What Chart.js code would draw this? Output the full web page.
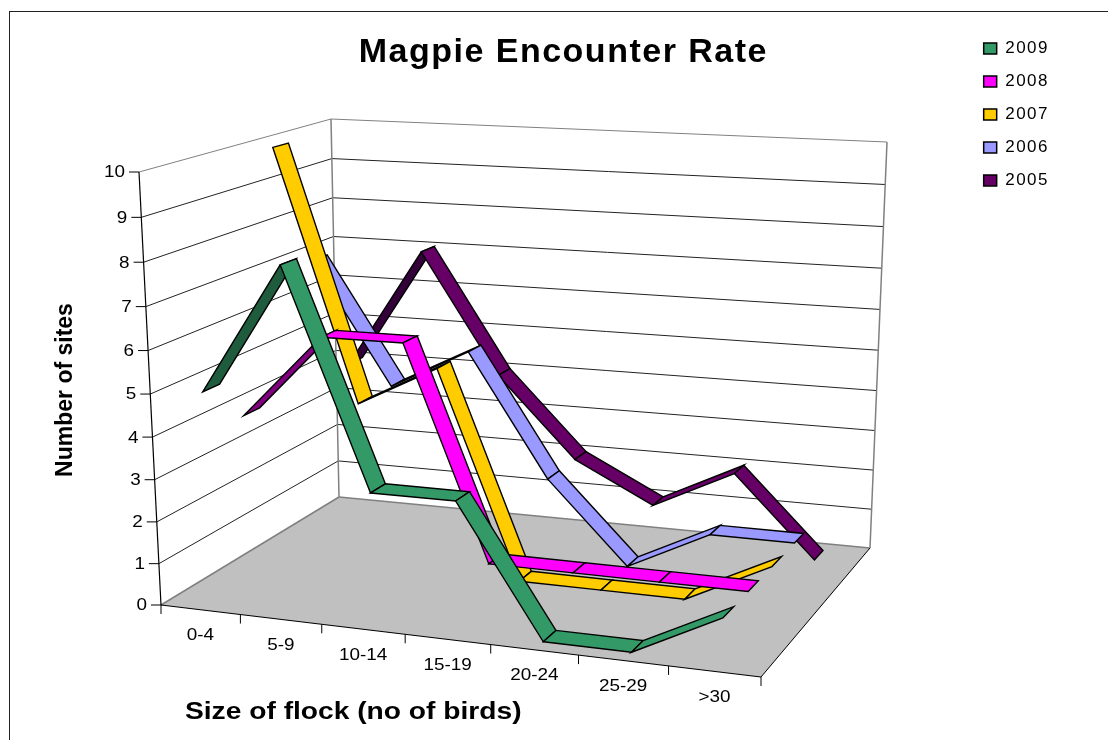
<!DOCTYPE html>
<html>
<head>
<meta charset="utf-8">
<title>Magpie Encounter Rate</title>
<script src="https://cdn.jsdelivr.net/npm/chart.js@4"></script>
<style>
  body { margin: 0; background: #fff; }
  canvas { display: block; }
</style>
</head>
<body>
<canvas id="chart" width="1108" height="740"></canvas>
<script>
// values
const flockSizes = ["0-4", "5-9", "10-14", "15-19", "20-24", "25-29", ">30"];
const years = ["2009", "2008", "2007", "2006", "2005"];
const values2009 = [5, 8, 3, 3, 0, 0, 1];
const values2008 = [4, 6, 6, 1, 1, 1, 1];
const values2007 = [10, 4, 5, 0, 0, 0, 1];
const values2006 = [7, 4, 5, 2, 0, 1, 1];
const values2005 = [4, 7, 4, 2, 1, 2, 0];
const colors = ["#339966", "#FF00FF", "#FFCC00", "#9999FF", "#660066"];
const darkColors = ["#1F5B3D", "#800080", "#7F6600", "#4C4C80", "#33003A"];

// frame of the 3D box on the page, [x, y]: front/back, floor/top
const frame = {
    floorFL: [161, 605], floorFR: [761, 677], floorBL: [339, 497], floorBR: [870, 548],
    topFL: [139, 172], topFR: [772, 197], topBL: [331, 119], topBR: [887, 142]
};
const persp = { u: -0.085, v: -0.05, w: 0.151 };
const ribbonHalf = 0.042; // half the ribbon depth, as part of the floor depth

function warp(t, k) {
    return t * (1 + k) / (1 + k * t);
}
function mix(a, b, t) {
    return [a[0] + (b[0] - a[0]) * t, a[1] + (b[1] - a[1]) * t];
}
function project(u, v, w) {
    const pu = warp(u, persp.u), pv = warp(v, persp.v), pw = warp(w, persp.w);
    const floor = mix(mix(frame.floorFL, frame.floorFR, pu), mix(frame.floorBL, frame.floorBR, pu), pw);
    const top = mix(mix(frame.topFL, frame.topFR, pu), mix(frame.topBL, frame.topBR, pu), pw);
    return mix(floor, top, pv);
}

function polygon(ctx, pts, fill, stroke, lw) {
    ctx.beginPath();
    pts.forEach((p, i) => (i ? ctx.lineTo(p[0], p[1]) : ctx.moveTo(p[0], p[1])));
    ctx.closePath();
    if (fill) { ctx.fillStyle = fill; ctx.fill(); }
    if (stroke) { ctx.strokeStyle = stroke; ctx.lineWidth = lw; ctx.stroke(); }
}
function line(ctx, a, b, color, lw) {
    ctx.beginPath();
    ctx.moveTo(a[0], a[1]);
    ctx.lineTo(b[0], b[1]);
    ctx.strokeStyle = color;
    ctx.lineWidth = lw;
    ctx.stroke();
}
// the reference text is stretched sideways
function wideText(ctx, text, x, y, stretch) {
    ctx.save();
    ctx.translate(x, y);
    ctx.scale(stretch, 1);
    ctx.fillStyle = "#000";
    ctx.fillText(text, 0, 0);
    ctx.restore();
}

const box3d = {
    id: "box3d",
    // native title and legend can't be stretched, so they get extra spacing
    beforeUpdate(chart) {
        chart.ctx.letterSpacing = "1.5px";
    },
    beforeDatasetsDraw(chart) {
        const ctx = chart.ctx;
        const xs = chart.scales.x, ys = chart.scales.y, zs = chart.scales.z;
        const U = i => (xs.getPixelForValue(i) - xs.left) / xs.width;
        const V = val => (ys.bottom - ys.getPixelForValue(val)) / ys.height;
        const W = k => (zs.getPixelForValue(k) - zs.left) / zs.width;
        ctx.save();
        ctx.letterSpacing = "0px";
        ctx.lineJoin = "miter";

        // floor
        polygon(ctx, [project(0, 0, 0), project(1, 0, 0), project(1, 0, 1), project(0, 0, 1)], "#C0C0C0");
        line(ctx, project(0, 0, 0), project(0, 0, 1), "#808080", 1.5);
        line(ctx, project(0, 0, 1), project(1, 0, 1), "#808080", 1.5);
        line(ctx, project(0, 0, 0), project(1, 0, 0), "#000", 1.2);
        line(ctx, project(1, 0, 0), project(1, 0, 1), "#000", 1);

        // wall lines
        ys.ticks.forEach(t => {
            if (t.value === 0) return;
            const v = V(t.value);
            const c = t.value === 10 ? "#808080" : "#222";
            line(ctx, project(0, v, 0), project(0, v, 1), c, 1);
            line(ctx, project(0, v, 1), project(1, v, 1), c, 1);
        });
        line(ctx, project(0, 0, 1), project(0, 1, 1), "#808080", 1.5);
        line(ctx, project(1, 0, 1), project(1, 1, 1), "#808080", 1.5);
        line(ctx, project(0, 0, 0), project(0, 1, 0), "#000", 1.2);

        // value axis ticks and labels
        ctx.font = "16px 'Liberation Sans'";
        ctx.textAlign = "right";
        ctx.textBaseline = "middle";
        ys.ticks.forEach(t => {
            const p = project(0, V(t.value), 0);
            line(ctx, [p[0] - 10, p[1]], p, "#000", 1);
            wideText(ctx, String(t.value), p[0] - 14, p[1] + 1, 1.18);
        });

        // category ticks and labels
        ctx.textAlign = "center";
        flockSizes.forEach((name, i) => {
            const p = project(U(i), 0, 0);
            wideText(ctx, name, p[0], p[1] + 26, 1.18);
        });
        for (let i = 0; i <= flockSizes.length; i++) {
            const p = project(U(i - 0.5), 0, 0);
            line(ctx, p, [p[0], p[1] + 9], "#000", 1);
        }

        // ribbons, back series first
        for (let k = years.length - 1; k >= 0; k--) {
            const data = chart.data.datasets[k].data;
            const w0 = W(k) - ribbonHalf, w1 = W(k) + ribbonHalf;
            for (let i = 0; i < data.length - 1; i++) {
                const a = data[i], b = data[i + 1];
                polygon(ctx, [
                    project(U(i), V(a), w0),
                    project(U(i + 1), V(b), w0),
                    project(U(i + 1), V(b), w1),
                    project(U(i), V(a), w1)
                ], b - a >= 2 ? darkColors[k] : colors[k], "#000", 1.4);
            }
        }

        // axis titles
        ctx.font = "bold 23px 'Liberation Sans'";
        ctx.fillStyle = "#000";
        ctx.textAlign = "left";
        ctx.textBaseline = "middle";
        wideText(ctx, "Size of flock (no of birds)", 185, 713, 1.225);
        ctx.translate(66, 390);
        ctx.rotate(-Math.PI / 2);
        ctx.textAlign = "center";
        ctx.fillText("Number of sites", 0, 0);
        ctx.restore();
    },
    afterDraw(chart) {
        const ctx = chart.ctx;
        ctx.save();
        ctx.strokeStyle = "#222";
        ctx.lineWidth = 1;
        ctx.strokeRect(9.5, 11.5, 1140, 760);
        ctx.restore();
    }
};

const seriesValues = [values2009, values2008, values2007, values2006, values2005];

new Chart(document.getElementById("chart"), {
    type: "line",
    data: {
        labels: flockSizes,
        datasets: years.map((year, k) => ({
            label: year,
            data: seriesValues[k],
            backgroundColor: colors[k],
            borderColor: "#000",
            borderWidth: 1.5,
            pointRadius: 0,
            showLine: false
        }))
    },
    options: {
        responsive: false,
        animation: false,
        layout: { padding: { left: 159, right: 49, top: 24, bottom: 40 } },
        scales: {
            x: { type: "category", offset: true, display: false, grid: { display: false } },
            y: { min: 0, max: 10, ticks: { stepSize: 1 }, display: false },
            z: { type: "category", axis: "x", labels: years, offset: true, display: false }
        },
        plugins: {
            title: {
                display: true,
                text: "Magpie Encounter Rate",
                fullSize: false,
                color: "#000",
                font: { family: "'Liberation Sans'", size: 34, weight: "bold" },
                padding: { top: 8, bottom: 0 }
            },
            legend: {
                position: "right",
                align: "start",
                labels: {
                    color: "#000",
                    boxWidth: 13,
                    boxHeight: 11,
                    padding: 16,
                    font: { family: "'Liberation Sans'", size: 17 }
                }
            },
            tooltip: { enabled: false }
        }
    },
    plugins: [box3d]
});
</script>
</body>
</html>
